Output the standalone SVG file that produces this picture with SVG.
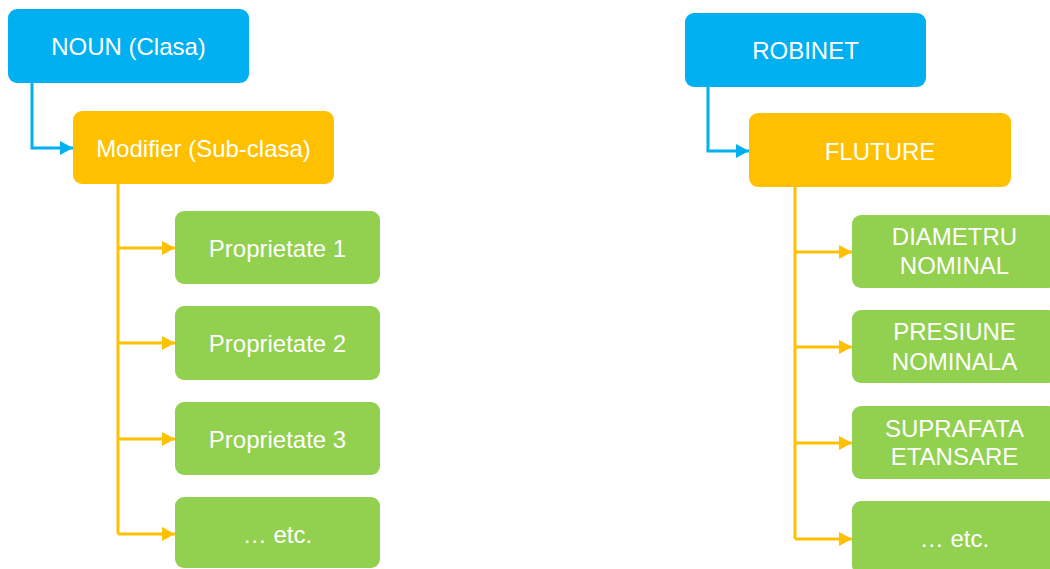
<svg xmlns="http://www.w3.org/2000/svg" width="1050" height="569" viewBox="0 0 1050 569">
<style>
.blue{fill:#00B0F0}
.orange{fill:#FFC000}
.green{fill:#92D050}
text{font-family:"Liberation Sans",Arial,sans-serif;font-size:24px;fill:#FFFFFF;text-anchor:middle}
.cb{fill:none;stroke:#00B0F0;stroke-width:3}
.co{fill:none;stroke:#FFC000;stroke-width:3}
</style>
<defs>
<marker id="ab" markerUnits="userSpaceOnUse" markerWidth="15" markerHeight="16" refX="13" refY="8" orient="auto"><path d="M0,1 L13,8 L0,15 Z" fill="#00B0F0"/></marker>
<marker id="ao" markerUnits="userSpaceOnUse" markerWidth="15" markerHeight="16" refX="13" refY="8" orient="auto"><path d="M0,1 L13,8 L0,15 Z" fill="#FFC000"/></marker>
</defs>
<rect width="1050" height="569" fill="#FFFFFF"/>
<g id="connectors">
<path class="cb" d="M32,83 V148 H73" marker-end="url(#ab)"/>
<path class="co" d="M118,184 V534"/>
<path class="co" d="M118,248 H175" marker-end="url(#ao)"/>
<path class="co" d="M118,343 H175" marker-end="url(#ao)"/>
<path class="co" d="M118,439 H175" marker-end="url(#ao)"/>
<path class="co" d="M118,534 H175" marker-end="url(#ao)"/>
<path class="cb" d="M708,87 V151 H749" marker-end="url(#ab)"/>
<path class="co" d="M795,187 V539"/>
<path class="co" d="M795,252 H852" marker-end="url(#ao)"/>
<path class="co" d="M795,347 H852" marker-end="url(#ao)"/>
<path class="co" d="M795,443 H852" marker-end="url(#ao)"/>
<path class="co" d="M795,539 H852" marker-end="url(#ao)"/>
</g>
<g id="noun"><rect class="blue" x="8" y="9" width="241" height="74" rx="9"/><text x="128.5" y="55">NOUN (Clasa)</text></g>
<g id="modifier"><rect class="orange" x="73" y="111" width="261" height="73" rx="9"/><text x="203.5" y="156.5">Modifier (Sub-clasa)</text></g>
<g id="prop1"><rect class="green" x="175" y="211" width="205" height="73" rx="9"/><text x="277.5" y="256.5">Proprietate 1</text></g>
<g id="prop2"><rect class="green" x="175" y="306" width="205" height="74" rx="9"/><text x="277.5" y="352">Proprietate 2</text></g>
<g id="prop3"><rect class="green" x="175" y="402" width="205" height="73" rx="9"/><text x="277.5" y="447.5">Proprietate 3</text></g>
<g id="etc1"><rect class="green" x="175" y="497" width="205" height="71" rx="9"/><text x="277.5" y="542.5">… etc.</text></g>
<g id="robinet"><rect class="blue" x="685" y="13" width="241" height="74" rx="9"/><text x="805.5" y="59">ROBINET</text></g>
<g id="fluture"><rect class="orange" x="749" y="113" width="262" height="74" rx="9"/><text x="880" y="160">FLUTURE</text></g>
<g id="diametru"><rect class="green" x="852" y="215" width="205" height="73" rx="9"/><text x="954.5" y="245">DIAMETRU</text><text x="954.5" y="274">NOMINAL</text></g>
<g id="presiune"><rect class="green" x="852" y="310" width="205" height="73" rx="9"/><text x="954.5" y="340">PRESIUNE</text><text x="954.5" y="370">NOMINALA</text></g>
<g id="suprafata"><rect class="green" x="852" y="406" width="205" height="73" rx="9"/><text x="954.5" y="436.5">SUPRAFATA</text><text x="954.5" y="465">ETANSARE</text></g>
<g id="etc2"><rect class="green" x="852" y="501" width="205" height="73" rx="9"/><text x="954.5" y="546.5">… etc.</text></g>
</svg>
